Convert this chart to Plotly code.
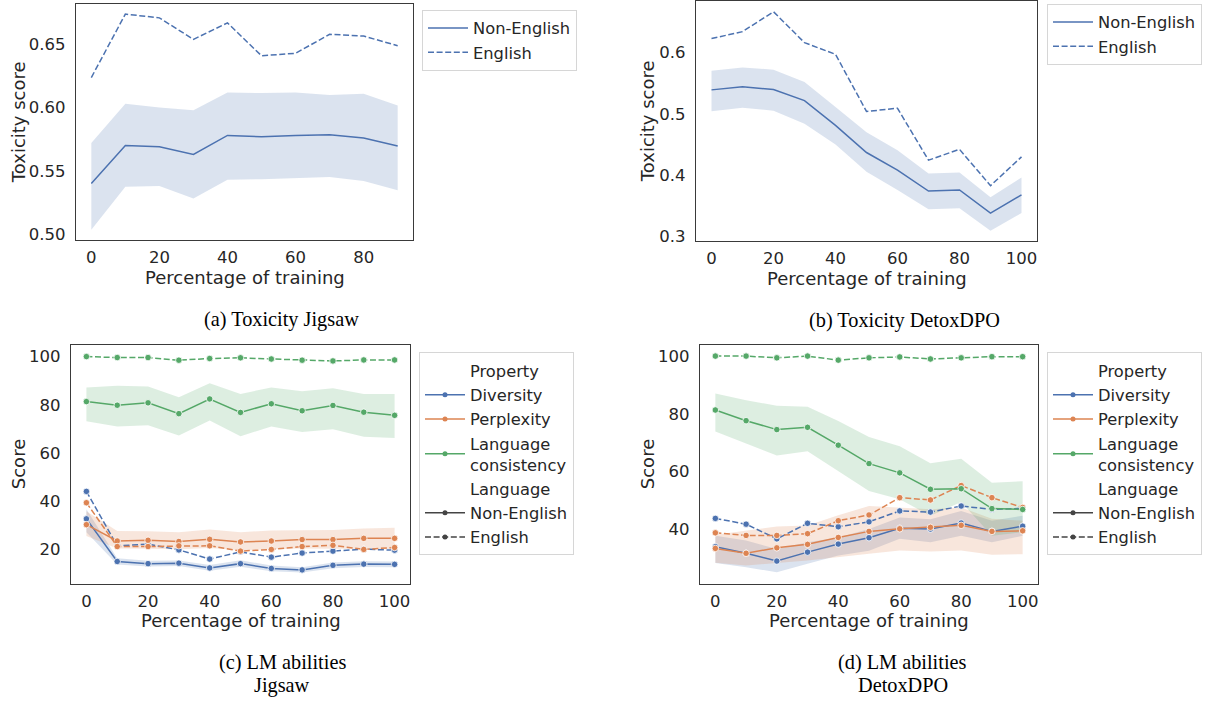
import plotly.graph_objects as go

# ---------------- data ----------------
a_x = [0, 10, 20, 30, 40, 50, 60, 70, 80, 90]
a_ne = [0.540, 0.570, 0.569, 0.563, 0.578, 0.577, 0.578, 0.5785, 0.576, 0.5696]
a_ne_hi = [0.572, 0.603, 0.600, 0.598, 0.612, 0.6115, 0.612, 0.610, 0.611, 0.6016]
a_ne_lo = [0.5034, 0.5374, 0.538, 0.528, 0.543, 0.5434, 0.544, 0.545, 0.542, 0.5345]
a_en = [0.6238, 0.674, 0.671, 0.654, 0.667, 0.641, 0.643, 0.658, 0.6566, 0.649]

b_x = [0, 10, 20, 30, 40, 50, 60, 70, 80, 90, 100]
b_ne = [0.539, 0.544, 0.5395, 0.5216, 0.481, 0.4368, 0.408, 0.374, 0.3757, 0.338, 0.3676]
b_ne_hi = [0.570, 0.5757, 0.572, 0.552, 0.511, 0.470, 0.4405, 0.4027, 0.4043, 0.3638, 0.396]
b_ne_lo = [0.504, 0.510, 0.5049, 0.4838, 0.450, 0.4054, 0.3757, 0.3443, 0.346, 0.309, 0.338]
b_en = [0.6227, 0.634, 0.6665, 0.616, 0.597, 0.5038, 0.509, 0.4243, 0.442, 0.3827, 0.4297]

c_x = [0, 10, 20, 30, 40, 50, 60, 70, 80, 90, 100]
c_div_ne = [32.6, 14.9, 14.0, 14.2, 12.2, 14.0, 12.0, 11.4, 13.3, 13.8, 13.7]
c_div_ne_hi = [36.6, 16.2, 15.2, 15.3, 13.4, 15.4, 13.2, 12.5, 14.5, 15.0, 14.9]
c_div_ne_lo = [27.0, 13.6, 12.8, 13.0, 11.0, 12.7, 10.8, 10.3, 12.1, 12.6, 12.5]
c_div_en = [44.0, 21.4, 22.1, 19.7, 15.9, 18.9, 16.7, 18.4, 19.2, 20.0, 19.6]
c_ppl_ne = [30.2, 23.4, 23.7, 23.2, 24.1, 23.0, 23.4, 24.0, 24.0, 24.5, 24.5]
c_ppl_ne_hi = [35.8, 27.6, 27.5, 27.0, 28.2, 27.0, 27.8, 27.8, 28.0, 28.6, 28.9]
c_ppl_ne_lo = [25.5, 20.3, 20.2, 20.0, 20.5, 19.6, 19.8, 20.3, 20.2, 20.3, 20.1]
c_ppl_en = [39.3, 21.1, 21.1, 21.4, 21.4, 19.2, 19.9, 21.1, 21.6, 19.9, 20.7]
c_lc_ne = [81.3, 79.8, 80.8, 76.3, 82.4, 76.8, 80.4, 77.5, 79.7, 76.9, 75.6]
c_lc_ne_hi = [87.2, 87.9, 87.6, 83.1, 88.9, 84.5, 87.2, 85.6, 86.8, 84.5, 84.5]
c_lc_ne_lo = [73.1, 71.0, 71.5, 67.2, 73.5, 66.9, 71.0, 68.7, 69.8, 66.7, 66.2]
c_lc_en = [100.0, 99.6, 99.6, 98.5, 99.2, 99.5, 99.0, 98.5, 98.2, 98.6, 98.6]

d_x = [0, 10, 20, 30, 40, 50, 60, 70, 80, 90, 100]
d_div_ne = [33.9, 31.6, 28.9, 32.0, 34.8, 37.0, 40.3, 40.0, 42.1, 39.2, 41.0]
d_div_ne_hi = [37.7, 36.0, 33.1, 35.4, 37.1, 40.0, 44.0, 43.4, 46.3, 42.9, 44.6]
d_div_ne_lo = [28.2, 26.8, 25.0, 28.0, 30.8, 32.5, 36.6, 35.4, 37.7, 35.4, 37.7]
d_div_en = [43.7, 41.7, 36.6, 42.0, 40.8, 42.5, 46.3, 45.9, 48.0, 46.8, 47.2]
d_ppl_ne = [33.3, 31.6, 33.5, 34.7, 37.1, 39.2, 40.1, 40.6, 41.3, 39.2, 39.4]
d_ppl_ne_hi = [38.0, 39.4, 40.9, 41.2, 44.8, 48.0, 47.5, 46.9, 47.5, 43.6, 42.9]
d_ppl_ne_lo = [28.3, 27.4, 28.2, 29.1, 30.2, 31.4, 32.6, 32.2, 32.6, 31.1, 31.3]
d_ppl_en = [38.7, 37.8, 37.8, 38.4, 42.9, 44.9, 50.9, 50.1, 55.1, 50.9, 47.5]
d_lc_ne = [81.3, 77.6, 74.5, 75.3, 69.1, 62.7, 59.5, 53.8, 54.0, 47.1, 46.8]
d_lc_ne_hi = [87.0, 84.7, 82.8, 82.4, 77.5, 71.9, 68.7, 62.8, 64.4, 56.1, 56.6]
d_lc_ne_lo = [73.8, 69.6, 65.5, 67.0, 60.1, 53.2, 50.3, 44.6, 49.4, 37.7, 38.9]
d_lc_en = [100.0, 100.0, 99.4, 100.0, 98.6, 99.4, 99.7, 99.0, 99.4, 99.8, 99.8]

properties = ["Diversity", "Perplexity", "Language<br>consistency"]
languages = ["Non-English", "English"]
caption_lines = [["(a) Toxicity Jigsaw"], ["(b) Toxicity DetoxDPO"],
                 ["(c) LM abilities", "Jigsaw"], ["(d) LM abilities", "DetoxDPO"]]

# ---------------- style ----------------
W, H = 1210, 709
BLUE, ORANGE, GREEN = "#4C72B0", "#DD8452", "#55A868"
FILL = {BLUE: "rgba(76,114,176,0.2)", ORANGE: "rgba(221,132,82,0.2)", GREEN: "rgba(85,168,104,0.2)"}
FONT = "DejaVu Sans"
TXT = "#262626"
FS_TICK = 16.5
FS_LABEL = 18
FS_LEG = 16.3
DASH = "6px,2.6px"


def px_x(p):
    return p / W


def px_y(p):
    return 1 - p / H


fig = go.Figure()


def band(x, lo, hi, color, xa, ya):
    fig.add_trace(go.Scatter(x=list(x) + list(x)[::-1], y=list(hi) + list(lo)[::-1],
                             fill="toself", fillcolor=FILL[color], line=dict(width=0),
                             mode="lines", showlegend=False, hoverinfo="skip",
                             xaxis=xa, yaxis=ya))


def line(x, y, color, dash, xa, ya, markers=False, name=None, legend=None, show=False):
    fig.add_trace(go.Scatter(x=x, y=y, mode="lines+markers" if markers else "lines",
                             line=dict(color=color, width=1.5, dash=dash),
                             marker=dict(size=6.5, color=color, line=dict(color="white", width=0.8)),
                             name=name, showlegend=show, legend=legend,
                             xaxis=xa, yaxis=ya))


# (a)
band(a_x, a_ne_lo, a_ne_hi, BLUE, "x", "y")
line(a_x, a_ne, BLUE, "solid", "x", "y", name=languages[0], legend="legend", show=True)
line(a_x, a_en, BLUE, DASH, "x", "y", name=languages[1], legend="legend", show=True)

# (b)
band(b_x, b_ne_lo, b_ne_hi, BLUE, "x2", "y2")
line(b_x, b_ne, BLUE, "solid", "x2", "y2", name=languages[0], legend="legend2", show=True)
line(b_x, b_en, BLUE, DASH, "x2", "y2", name=languages[1], legend="legend2", show=True)

# (c) and (d)
for xa, ya, xs, groups in [
    ("x3", "y3", c_x, [(c_div_ne, c_div_ne_lo, c_div_ne_hi, c_div_en, BLUE),
                       (c_ppl_ne, c_ppl_ne_lo, c_ppl_ne_hi, c_ppl_en, ORANGE),
                       (c_lc_ne, c_lc_ne_lo, c_lc_ne_hi, c_lc_en, GREEN)]),
    ("x4", "y4", d_x, [(d_div_ne, d_div_ne_lo, d_div_ne_hi, d_div_en, BLUE),
                       (d_ppl_ne, d_ppl_ne_lo, d_ppl_ne_hi, d_ppl_en, ORANGE),
                       (d_lc_ne, d_lc_ne_lo, d_lc_ne_hi, d_lc_en, GREEN)]),
]:
    for ne, lo, hi, en, col in groups:
        band(xs, lo, hi, col, xa, ya)
    for ne, lo, hi, en, col in groups:
        line(xs, ne, col, "solid", xa, ya, markers=True)
        line(xs, en, col, DASH, xa, ya, markers=True)

# legend entries for (c), (d)
for lg, xa, ya in [("legend3", "x3", "y3"), ("legend4", "x4", "y4")]:
    entries = [("Property", None, None)] + \
              [(p, c, "solid") for p, c in zip(properties, [BLUE, ORANGE, GREEN])] + \
              [("Language", None, None), (languages[0], "#444444", "solid"), (languages[1], "#444444", DASH)]
    for name, col, dash in entries:
        if col is None:
            fig.add_trace(go.Scatter(x=[None], y=[None], mode="lines", name=name,
                                     line=dict(color="rgba(0,0,0,0)", width=0),
                                     legend=lg, xaxis=xa, yaxis=ya))
        else:
            fig.add_trace(go.Scatter(x=[None], y=[None], mode="lines+markers", name=name,
                                     line=dict(color=col, width=1.5, dash=dash),
                                     marker=dict(size=5, color=col),
                                     legend=lg, xaxis=xa, yaxis=ya))

# ---------------- axes ----------------
boxes = {  # left, right, top, bottom in px
    "a": (76, 413, 4, 242),
    "b": (696, 1037, 1, 243),
    "c": (71, 410, 347, 588),
    "d": (700, 1038, 347, 588),
}
ytitle_x = {"a": 18, "b": 647, "c": 18, "d": 647}
specs = [
    ("a", "", [-4.5, 94.5], [0.495, 0.682], [0, 20, 40, 60, 80], [0.50, 0.55, 0.60, 0.65], ".2f", "Toxicity score"),
    ("b", "2", [-5, 105], [0.292, 0.684], [0, 20, 40, 60, 80, 100], [0.3, 0.4, 0.5, 0.6], ".1f", "Toxicity score"),
    ("c", "3", [-5, 105], [5.6, 105], [0, 20, 40, 60, 80, 100], [20, 40, 60, 80, 100], "d", "Score"),
    ("d", "4", [-5, 105], [21, 104], [0, 20, 40, 60, 80, 100], [40, 60, 80, 100], "d", "Score"),
]
axis_common = dict(showline=True, mirror=True, linecolor="#3a3a3a", linewidth=1.3,
                   showgrid=False, zeroline=False, ticks="",
                   tickfont=dict(family=FONT, size=FS_TICK, color=TXT))
annotations = []
for key, sfx, xr, yr, xt, yt, yfmt, ytitle in specs:
    l, r, t, b = boxes[key]
    fig.layout["xaxis" + sfx] = dict(domain=[px_x(l), px_x(r)], range=xr, tickvals=xt,
                                     anchor="y" + sfx, ticklabelstandoff=2, **axis_common)
    fig.layout["yaxis" + sfx] = dict(domain=[px_y(b), px_y(t)], range=yr, tickvals=yt,
                                     tickformat=yfmt, anchor="x" + sfx, ticklabelstandoff=6,
                                     **axis_common)
    annotations.append(dict(text="Percentage of training", x=px_x((l + r) / 2), y=px_y(b + 37),
                            xref="paper", yref="paper", showarrow=False, xanchor="center",
                            yanchor="middle", font=dict(family=FONT, size=FS_LABEL, color=TXT)))
    annotations.append(dict(text=ytitle, x=px_x(ytitle_x[key]),
                            y=px_y((t + b) / 2), xref="paper", yref="paper", showarrow=False,
                            textangle=-90, xanchor="center", yanchor="middle",
                            font=dict(family=FONT, size=FS_LABEL, color=TXT)))

cap_pos = [[(281, 322)], [(904, 323)], [(282, 667), (282, 690)], [(902, 667), (903, 690)]]
for lines_, poss in zip(caption_lines, cap_pos):
    for txt, (cx, cy) in zip(lines_, poss):
        annotations.append(dict(text=txt, x=px_x(cx), y=px_y(cy), xref="paper", yref="paper",
                                showarrow=False, xanchor="center", yanchor="middle",
                                font=dict(family="Liberation Serif", size=20.3, color="black")))

leg_common = dict(xanchor="left", yanchor="top", bgcolor="white", bordercolor="#d6d6d6",
                  borderwidth=1, font=dict(family=FONT, size=FS_LEG, color=TXT), itemwidth=40,
                  tracegroupgap=0)
fig.update_layout(
    width=W, height=H, margin=dict(l=0, r=0, t=0, b=0),
    paper_bgcolor="white", plot_bgcolor="white",
    annotations=annotations,
    legend=dict(x=px_x(422), y=px_y(10), **leg_common),
    legend2=dict(x=px_x(1047), y=px_y(4), **leg_common),
    legend3=dict(x=px_x(419), y=px_y(355), **leg_common),
    legend4=dict(x=px_x(1047), y=px_y(355), **leg_common),
)

fig.write_html("out.html")
